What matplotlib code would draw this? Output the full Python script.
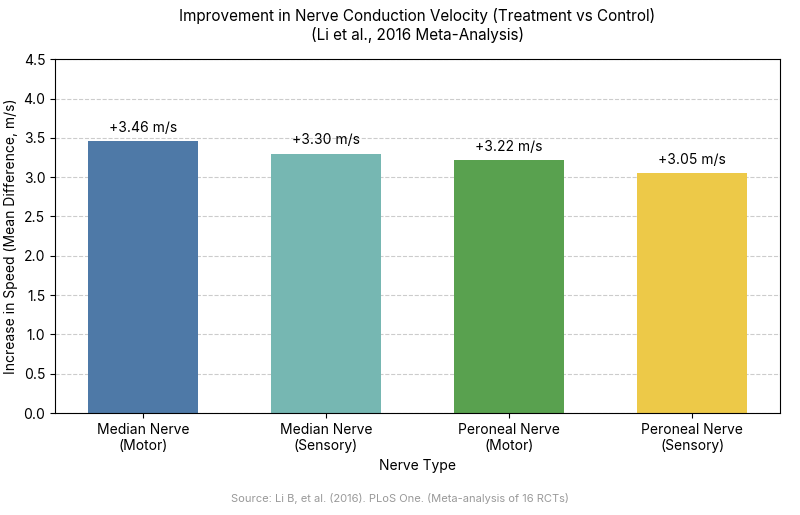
import matplotlib
matplotlib.use("Agg")
import matplotlib.pyplot as plt

categories = ["Median Nerve\n(Motor)", "Median Nerve\n(Sensory)", "Peroneal Nerve\n(Motor)", "Peroneal Nerve\n(Sensory)"]
values = [3.46, 3.30, 3.22, 3.05]
labels = ["+3.46 m/s", "+3.30 m/s", "+3.22 m/s", "+3.05 m/s"]
colors = ["#4e79a7", "#76b7b2", "#59a14f", "#edc948"]

plt.rcParams['font.family'] = ['Inter', 'DejaVu Sans']
fig, ax = plt.subplots(figsize=(8, 5.15), dpi=100)
fig.subplots_adjust(left=0.069, right=0.975, top=0.885, bottom=0.198)
x = range(len(categories))
ax.bar(x, values, width=0.6, color=colors, zorder=2)
for i, (v, l) in enumerate(zip(values, labels)):
    ax.text(i, v + 0.08, l, ha='center', va='bottom', fontsize=10)
ax.set_xticks(list(x))
ax.set_xticklabels(categories, fontsize=10)
ax.set_ylim(0, 4.5)
ax.set_yticks([i * 0.5 for i in range(10)])
ax.tick_params(axis='y', labelsize=10)
ax.yaxis.grid(True, linestyle='--', color='#cccccc', zorder=0)
ax.set_axisbelow(True)
ax.set_xlabel("Nerve Type", fontsize=10)
ax.set_ylabel("Increase in Speed (Mean Difference, m/s)", fontsize=10)
ax.set_title("Improvement in Nerve Conduction Velocity (Treatment vs Control)\n(Li et al., 2016 Meta-Analysis)", fontsize=11, pad=14)
fig.text(0.5, 0.025, "Source: Li B, et al. (2016). PLoS One. (Meta-analysis of 16 RCTs)", ha='center', fontsize=8, color='#999999')
fig.savefig("out.png", dpi=100)
